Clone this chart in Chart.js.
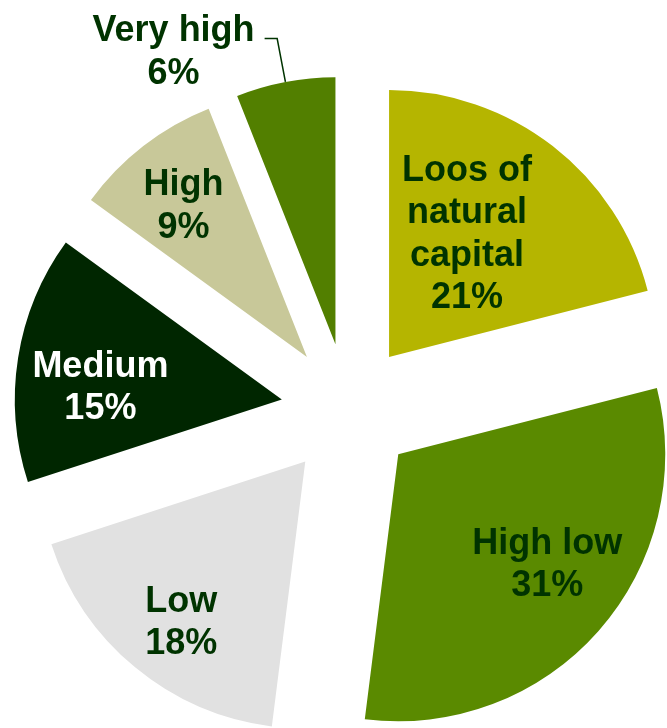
<!DOCTYPE html>
<html>
<head>
<meta charset="utf-8">
<script src="https://cdn.jsdelivr.net/npm/chart.js@4"></script>
<style>
html, body { margin: 0; padding: 0; background: #ffffff; }
#wrap { width: 667px; height: 728px; position: relative; }
</style>
</head>
<body>
<div id="wrap"><canvas id="pieChart"></canvas></div>
<script>
// categories (split into label lines) and their shares in %
const categories = [['Loos of', 'natural', 'capital'], ['High low'], ['Low'], ['Medium'], ['High'], ['Very high']];
const shares = [21, 31, 18, 15, 9, 6];

const sliceColors = ['#b5b500', '#5a8a00', '#e1e1e1', '#002600', '#c8c899', '#527f00'];
const textColors = ['#003300', '#003300', '#003300', '#ffffff', '#003300', '#003300'];
// where each label sits: distance from the slice tip, turn away from the slice middle (deg)
const labelSpots = [[148, -6], [184, -5.5], [201, -1.5], [182, -4.5], [197, -1], [336, -18]];
const outsideLabel = 5;
const EXPLODE = 67;
const FONT = 'bold 36px "Liberation Sans", Arial, sans-serif';
const LINE_H = 42.5;

// pull every slice out from the centre by the same distance
const explodePlugin = {
    id: 'explode',
    afterDatasetUpdate(chart, args) {
        args.meta.data.forEach(arc => {
            const mid = (arc.startAngle + arc.endAngle) / 2;
            arc.x += Math.cos(mid) * EXPLODE;
            arc.y += Math.sin(mid) * EXPLODE;
        });
    }
};

const labelPlugin = {
    id: 'sliceLabels',
    afterDatasetsDraw(chart) {
        const ctx = chart.ctx;
        const arcs = chart.getDatasetMeta(0).data;
        ctx.save();
        ctx.font = FONT;
        ctx.textAlign = 'center';
        ctx.textBaseline = 'alphabetic';
        arcs.forEach((arc, i) => {
            const lines = [...categories[i], shares[i] + '%'];
            const [dist, turn] = labelSpots[i];
            const mid = (arc.startAngle + arc.endAngle) / 2;
            const a = mid + turn * Math.PI / 180;
            const cx = arc.x + Math.cos(a) * dist;
            const cy = arc.y + Math.sin(a) * dist;
            ctx.fillStyle = textColors[i];
            lines.forEach((line, k) => {
                const y = cy + (k - (lines.length - 1) / 2) * LINE_H;
                ctx.fillText(line, cx, y + 13);
            });

            if (i === outsideLabel) {
                const r = arc.outerRadius;
                const ex = arc.x + Math.cos(mid) * (r + 44);
                const ey = arc.y + Math.sin(mid) * (r + 44);
                const firstW = ctx.measureText(lines[0]).width;
                const firstY = cy - (lines.length - 1) / 2 * LINE_H;
                ctx.strokeStyle = '#003300';
                ctx.lineWidth = 1.5;
                ctx.beginPath();
                ctx.moveTo(cx + firstW / 2 + 10, firstY + 10);
                ctx.lineTo(ex, firstY + 10);
                ctx.lineTo(arc.x + Math.cos(mid) * r, arc.y + Math.sin(mid) * r);
                ctx.stroke();
            }
        });
        ctx.restore();
    }
};

new Chart(document.getElementById('pieChart'), {
    type: 'pie',
    data: {
        labels: categories,
        datasets: [{
            data: shares,
            backgroundColor: sliceColors,
            borderWidth: 0,
            radius: 267,
            clip: false
        }]
    },
    options: {
        responsive: true,
        maintainAspectRatio: false,
        animation: false,
        events: [],
        layout: { padding: { left: 29, top: 92, right: 0, bottom: 0 } },
        plugins: {
            legend: { display: false },
            tooltip: { enabled: false }
        }
    },
    plugins: [explodePlugin, labelPlugin]
});
</script>
</body>
</html>
